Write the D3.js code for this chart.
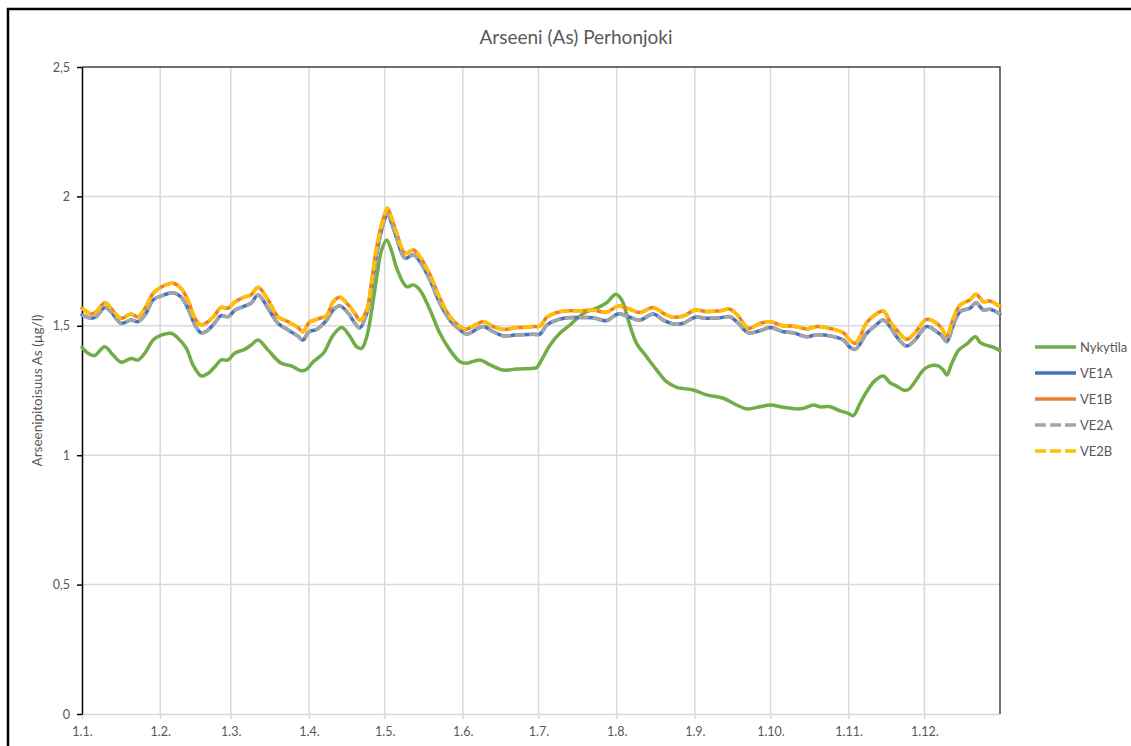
<!DOCTYPE html>
<html>
<head>
<meta charset="utf-8">
<script src="https://cdn.jsdelivr.net/npm/d3@7"></script>
<style>
  html, body { margin: 0; padding: 0; background: #fff; }
  svg { display: block; font-family: Lato, "Open Sans", sans-serif; }
</style>
</head>
<body>
<svg id="chart" width="1131" height="746"></svg>
<script>
// Day-of-year positions shared by the scenario series
const veDays = [0,3.6,5.6,9.1,11.5,15.5,19.4,22.2,25,28.2,
  31.3,36.1,39.2,42,44.8,47.2,50,52.7,55.1,57.9,
  60.7,64.6,67,69.8,73.8,77.7,81.7,85.6,87.6,90,
  93,97,99.6,102.3,105.6,108.2,110.2,112.9,114.9,116.9,
  119.5,121.1,122.8,124.8,128.1,131.4,134,138,141.9,145.9,
  149.9,152.5,159.1,163.1,167,172.4,178.9,181.6,184.3,188.2,
  192.2,197.5,202.7,208,212.6,217.3,221.2,226.5,230.5,234.5,
  238.4,243.1,247.7,253,256.9,260.2,264.2,268.8,272.8,278.1,
  282,287.3,291.3,296.6,301.9,304.5,306.5,308.5,311.1,314.4,
  317.7,320.4,323,327,330.3,334.9,338.9,340.9,342.9,345.5,
  348.2,352.1,354.5,357.4,360,364];

const ve1a = [1.542,1.529,1.535,1.571,1.554,1.510,1.522,1.516,1.542,1.600,
  1.615,1.628,1.612,1.567,1.503,1.473,1.484,1.512,1.539,1.535,
  1.561,1.577,1.587,1.619,1.567,1.510,1.484,1.460,1.445,1.477,
  1.486,1.522,1.561,1.577,1.548,1.510,1.492,1.548,1.651,1.780,
  1.896,1.934,1.896,1.838,1.761,1.774,1.748,1.677,1.587,1.522,
  1.484,1.468,1.497,1.477,1.461,1.465,1.467,1.468,1.503,1.522,
  1.531,1.532,1.531,1.520,1.546,1.533,1.522,1.546,1.522,1.507,
  1.510,1.533,1.529,1.531,1.535,1.510,1.473,1.481,1.493,1.477,
  1.473,1.458,1.465,1.461,1.445,1.417,1.409,1.429,1.471,1.499,
  1.522,1.497,1.458,1.422,1.445,1.497,1.477,1.462,1.439,1.503,
  1.555,1.568,1.589,1.561,1.564,1.546];

const ve1b = [1.568,1.546,1.555,1.589,1.568,1.529,1.546,1.535,1.568,1.625,
  1.649,1.664,1.645,1.600,1.529,1.503,1.516,1.542,1.571,1.568,
  1.593,1.612,1.619,1.649,1.600,1.535,1.516,1.494,1.477,1.512,
  1.525,1.540,1.593,1.610,1.580,1.548,1.522,1.561,1.677,1.806,
  1.915,1.954,1.915,1.857,1.780,1.793,1.767,1.697,1.606,1.535,
  1.497,1.487,1.516,1.497,1.486,1.493,1.497,1.499,1.533,1.551,
  1.558,1.558,1.561,1.552,1.576,1.564,1.551,1.571,1.548,1.533,
  1.538,1.561,1.555,1.558,1.564,1.538,1.490,1.509,1.516,1.499,
  1.499,1.488,1.497,1.490,1.473,1.445,1.432,1.458,1.512,1.542,
  1.557,1.516,1.484,1.448,1.473,1.525,1.510,1.490,1.461,1.529,
  1.580,1.600,1.622,1.593,1.596,1.574];

const ve2a = [1.542,1.529,1.535,1.571,1.554,1.510,1.522,1.516,1.542,1.600,
  1.615,1.628,1.612,1.567,1.503,1.473,1.484,1.512,1.539,1.535,
  1.561,1.577,1.587,1.619,1.567,1.510,1.484,1.460,1.445,1.477,
  1.486,1.522,1.561,1.577,1.548,1.510,1.492,1.548,1.651,1.780,
  1.896,1.934,1.896,1.838,1.761,1.774,1.748,1.677,1.587,1.522,
  1.484,1.468,1.497,1.477,1.461,1.465,1.467,1.468,1.503,1.522,
  1.531,1.532,1.531,1.520,1.546,1.533,1.522,1.546,1.522,1.507,
  1.510,1.533,1.529,1.531,1.535,1.510,1.473,1.481,1.493,1.477,
  1.473,1.458,1.465,1.461,1.445,1.417,1.409,1.429,1.471,1.499,
  1.522,1.497,1.458,1.422,1.445,1.497,1.477,1.462,1.439,1.503,
  1.555,1.568,1.589,1.561,1.564,1.546];

const ve2b = [1.568,1.546,1.555,1.589,1.568,1.529,1.546,1.535,1.568,1.625,
  1.649,1.664,1.645,1.600,1.529,1.503,1.516,1.542,1.571,1.568,
  1.593,1.612,1.619,1.649,1.600,1.535,1.516,1.494,1.477,1.512,
  1.525,1.540,1.593,1.610,1.580,1.548,1.522,1.561,1.677,1.806,
  1.915,1.954,1.915,1.857,1.780,1.793,1.767,1.697,1.606,1.535,
  1.497,1.487,1.516,1.497,1.486,1.493,1.497,1.499,1.533,1.551,
  1.558,1.558,1.561,1.552,1.576,1.564,1.551,1.571,1.548,1.533,
  1.538,1.561,1.555,1.558,1.564,1.538,1.490,1.509,1.516,1.499,
  1.499,1.488,1.497,1.490,1.473,1.445,1.432,1.458,1.512,1.542,
  1.557,1.516,1.484,1.448,1.473,1.525,1.510,1.490,1.461,1.529,
  1.580,1.600,1.622,1.593,1.596,1.574];

// Current state (Nykytila) has its own sampling days
const nykyDays = [0,2.4,5,9,12.3,15.6,19.5,22.2,24.9,28.2,
  31.4,35.4,38.1,41.4,44,47.3,50,52.6,55.2,57.9,
  60.5,64.5,67.1,69.8,73.8,79,83,87,89.1,91.7,
  95.7,99.6,103,106.3,108.9,110.9,112.9,114.9,116.9,118.8,
  120.8,122.8,124.8,128.7,131.4,134,138,141.9,145.9,149.9,
  152.5,157.8,161.8,167,172.4,178.9,180.3,182.9,185.6,189.5,
  193.5,198.8,204.1,208,211.7,214,216.6,219.9,223.9,227.9,
  231.8,235.8,242.4,247.7,254.3,259.6,263.6,268.8,272.8,278.1,
  283.4,286,290,292.6,296.6,300.6,303.8,305.8,308.5,311.1,
  314.4,317.7,320.4,323,325.7,327.7,330.3,333.6,336.3,339.5,
  341.5,342.9,344.9,347.6,350.9,354.2,356.2,358.2,361.5,364];

const nykytila = [1.417,1.394,1.385,1.419,1.387,1.359,1.374,1.368,1.394,1.445,
  1.464,1.471,1.452,1.413,1.349,1.306,1.316,1.341,1.368,1.368,
  1.394,1.409,1.426,1.445,1.406,1.355,1.345,1.326,1.332,1.361,
  1.394,1.464,1.493,1.458,1.419,1.413,1.458,1.561,1.690,1.793,
  1.832,1.788,1.722,1.651,1.658,1.638,1.561,1.471,1.406,1.361,
  1.355,1.368,1.349,1.329,1.333,1.336,1.339,1.380,1.426,1.471,
  1.503,1.548,1.568,1.589,1.622,1.600,1.522,1.432,1.380,1.329,
  1.284,1.262,1.252,1.233,1.220,1.194,1.179,1.187,1.194,1.185,
  1.179,1.181,1.194,1.187,1.187,1.171,1.162,1.153,1.200,1.245,
  1.288,1.306,1.280,1.267,1.252,1.254,1.284,1.329,1.345,1.345,
  1.329,1.310,1.355,1.406,1.430,1.458,1.435,1.426,1.417,1.404];

// Axis ticks
const monthDays = [0,31,59,90,120,151,181,212,243,273,304,334];
const monthLabels = ["1.1.","1.2.","1.3.","1.4.","1.5.","1.6.","1.7.","1.8.","1.9.","1.10.","1.11.","1.12."];
const yTicks = [0,0.5,1,1.5,2,2.5];
const yLabels = ["0","0,5","1","1,5","2","2,5"];

const seriesNames = ["Nykytila","VE1A","VE1B","VE2A","VE2B"];

const svg = d3.select("#chart");
const textColor = "#595959";
const gridColor = "#d9d9d9";
const fontStack = "Lato, 'Open Sans', sans-serif";

const plot = { left: 82, right: 1000, top: 67, bottom: 714 };
const x = d3.scaleLinear().domain([0, 364]).range([plot.left, plot.right]);
const y = d3.scaleLinear().domain([0, 2.5]).range([plot.bottom, plot.top]);

// Outer chart frame
svg.append("rect")
  .attr("x", 8).attr("y", 9).attr("width", 1300).attr("height", 900)
  .attr("fill", "none").attr("stroke", "#000").attr("stroke-width", 2.5);

// Title
svg.append("text")
  .attr("x", 576).attr("y", 44)
  .attr("text-anchor", "middle")
  .attr("font-size", 19).attr("fill", textColor)
  .text("Arseeni (As) Perhonjoki");

// Vertical gridlines at month starts
svg.append("g").selectAll("line").data(monthDays.slice(1)).join("line")
  .attr("x1", d => x(d)).attr("x2", d => x(d))
  .attr("y1", plot.top).attr("y2", plot.bottom)
  .attr("stroke", gridColor).attr("stroke-width", 1.5);

// Horizontal gridlines
svg.append("g").selectAll("line").data(yTicks.filter(v => v > 0 && v < 2.5)).join("line")
  .attr("x1", plot.left).attr("x2", plot.right)
  .attr("y1", d => y(d)).attr("y2", d => y(d))
  .attr("stroke", gridColor).attr("stroke-width", 1.5);

// X axis (light) with month ticks
const xAxis = d3.axisBottom(x).tickValues(monthDays)
  .tickFormat((d, i) => monthLabels[i]).tickSizeInner(5).tickSizeOuter(0).tickPadding(8);
const gx = svg.append("g").attr("transform", `translate(0,${plot.bottom})`).call(xAxis);
gx.select(".domain").attr("stroke", gridColor).attr("stroke-width", 1.5);
gx.selectAll(".tick line").attr("stroke", gridColor).attr("stroke-width", 1.5);
gx.selectAll(".tick text").attr("fill", textColor).attr("font-size", 12.5)
  .attr("font-family", fontStack);

// Y axis (dark)
const yAxis = d3.axisLeft(y).tickValues(yTicks)
  .tickFormat((d, i) => yLabels[i]).tickSizeInner(5).tickSizeOuter(0).tickPadding(7);
const gy = svg.append("g").attr("transform", `translate(${plot.left},0)`).call(yAxis);
gy.select(".domain").attr("stroke", "#000").attr("stroke-width", 1.5);
gy.selectAll(".tick line").attr("stroke", "#000").attr("stroke-width", 1.5);
gy.selectAll(".tick text").attr("fill", textColor).attr("font-size", 12.5)
  .attr("font-family", fontStack);

// Dark top and right edges of the plot area
svg.append("path")
  .attr("d", `M${plot.left},${y(2.5)}H${plot.right}V${plot.bottom}`)
  .attr("fill", "none").attr("stroke", "#404040").attr("stroke-width", 1.5);

// Y axis title
svg.append("text")
  .attr("transform", `translate(42,${(plot.top + plot.bottom) / 2}) rotate(-90)`)
  .attr("text-anchor", "middle")
  .attr("font-size", 13.5).attr("fill", textColor)
  .text("Arseenipitoisuus As (µg/l)");

// Series
const series = [
  { name: "Nykytila", days: nykyDays, values: nykytila, color: "#70AD47", width: 3.5, dash: null },
  { name: "VE1A", days: veDays, values: ve1a, color: "#4472C4", width: 3.5, dash: null },
  { name: "VE1B", days: veDays, values: ve1b, color: "#ED7D31", width: 3.5, dash: null },
  { name: "VE2A", days: veDays, values: ve2a, color: "#A5A5A5", width: 3.5, dash: "10,4" },
  { name: "VE2B", days: veDays, values: ve2b, color: "#FFC000", width: 3.5, dash: "10,4" }
];

const line = d3.line()
  .x(d => x(d[0])).y(d => y(d[1]))
  .curve(d3.curveCatmullRom.alpha(0.5));

svg.append("g").selectAll("path").data(series).join("path")
  .attr("d", s => line(s.days.map((d, i) => [d, s.values[i]])))
  .attr("fill", "none")
  .attr("stroke", s => s.color)
  .attr("stroke-width", s => s.width)
  .attr("stroke-linejoin", "round")
  .attr("stroke-linecap", s => s.dash ? "butt" : "round")
  .attr("stroke-dasharray", s => s.dash);

// Legend
const legend = svg.append("g").selectAll("g").data(series).join("g")
  .attr("transform", (s, i) => `translate(1035,${347 + i * 26})`);
legend.append("line")
  .attr("x1", 0).attr("x2", 41).attr("y1", 0).attr("y2", 0)
  .attr("stroke", s => s.color).attr("stroke-width", 3.5)
  .attr("stroke-dasharray", s => s.dash ? "11,4" : null);
legend.append("text")
  .attr("x", 45).attr("y", 0).attr("dy", "0.35em")
  .attr("font-size", 13).attr("fill", textColor)
  .text(s => s.name);
</script>
</body>
</html>
